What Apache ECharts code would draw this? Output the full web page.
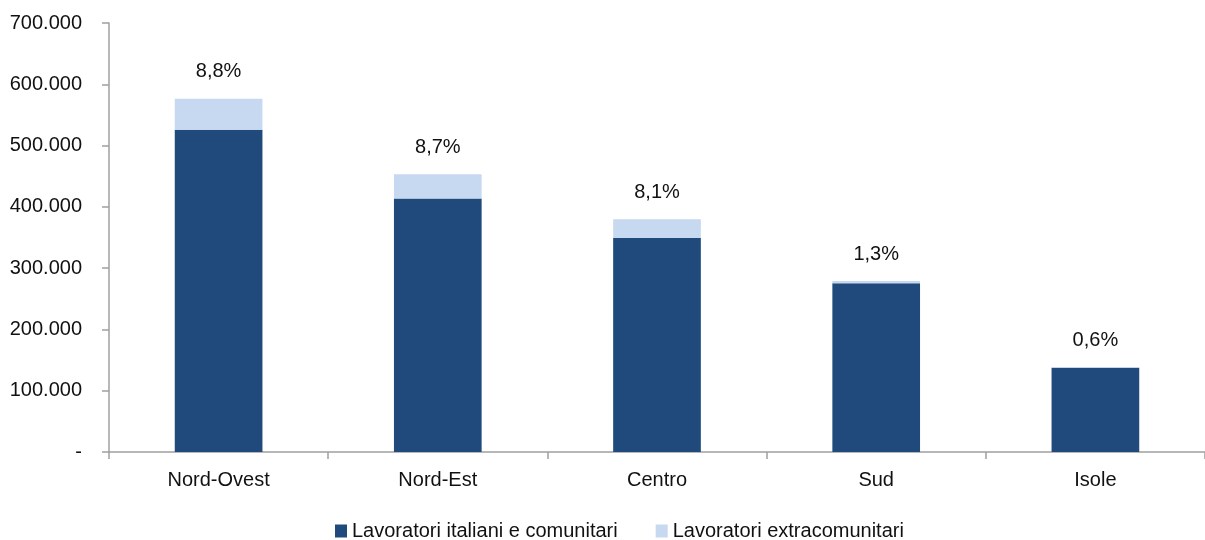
<!DOCTYPE html>
<html>
<head>
<meta charset="utf-8">
<script src="https://cdn.jsdelivr.net/npm/echarts@6/dist/echarts.min.js"></script>
<style>
html,body{margin:0;padding:0;background:#fff;}
#chart{width:1205px;height:540px;}
</style>
</head>
<body>
<div id="chart"></div>
<script>
const categories = ['Nord-Ovest', 'Nord-Est', 'Centro', 'Sud', 'Isole'];
const italiani = [525800, 413800, 349000, 275300, 137400];
const extracomunitari = [50700, 39400, 30800, 3600, 830];
const pctLabels = ['8,8%', '8,7%', '8,1%', '1,3%', '0,6%'];
const seriesNames = ['Lavoratori italiani e comunitari', 'Lavoratori extracomunitari'];

const FONT = '"Liberation Sans Narrow", "Arial Narrow", "Liberation Sans", Arial, sans-serif';
const TXT = '#111';

function fmt(v) {
  if (v === 0) return '-';
  return String(Math.round(v)).replace(/\B(?=(\d{3})+(?!\d))/g, '.');
}

const chart = echarts.init(document.getElementById('chart'), null, {renderer: 'canvas'});
chart.setOption({
  animation: false,
  backgroundColor: '#fff',
  textStyle: {fontFamily: FONT},
  grid: {left: 109, right: -3, top: 23, bottom: 88, containLabel: false},
  legend: {
    top: 516,
    left: 330,
    itemWidth: 12,
    itemHeight: 13,
    itemGap: 38,
    icon: 'rect',
    textStyle: {fontFamily: FONT, fontSize: 20, color: TXT},
    data: seriesNames
  },
  xAxis: {
    type: 'category',
    data: categories,
    axisLine: {lineStyle: {color: '#a0a0a0', width: 1.5}},
    axisTick: {show: true, length: 7, lineStyle: {color: '#a0a0a0', width: 1.5}},
    axisLabel: {fontFamily: FONT, fontSize: 20, color: TXT, margin: 18}
  },
  yAxis: {
    type: 'value',
    min: 0,
    max: 700000,
    interval: 100000,
    splitLine: {show: false},
    axisLine: {show: true, lineStyle: {color: '#a0a0a0', width: 1.5}},
    axisTick: {show: true, length: 7, lineStyle: {color: '#a0a0a0', width: 1.5}},
    axisLabel: {fontFamily: FONT, fontSize: 20, color: TXT, margin: 27, formatter: v => fmt(v)}
  },
  series: [
    {
      name: seriesNames[0],
      type: 'bar',
      stack: 'tot',
      barWidth: '40%',
      itemStyle: {color: '#214A7C'},
      data: italiani
    },
    {
      name: seriesNames[1],
      type: 'bar',
      stack: 'tot',
      barWidth: '40%',
      itemStyle: {color: '#C6D9F1'},
      label: {
        show: true,
        position: 'top',
        distance: 17,
        fontFamily: FONT,
        fontSize: 20,
        color: TXT,
        formatter: p => pctLabels[p.dataIndex]
      },
      data: extracomunitari
    }
  ]
});
</script>
</body>
</html>
